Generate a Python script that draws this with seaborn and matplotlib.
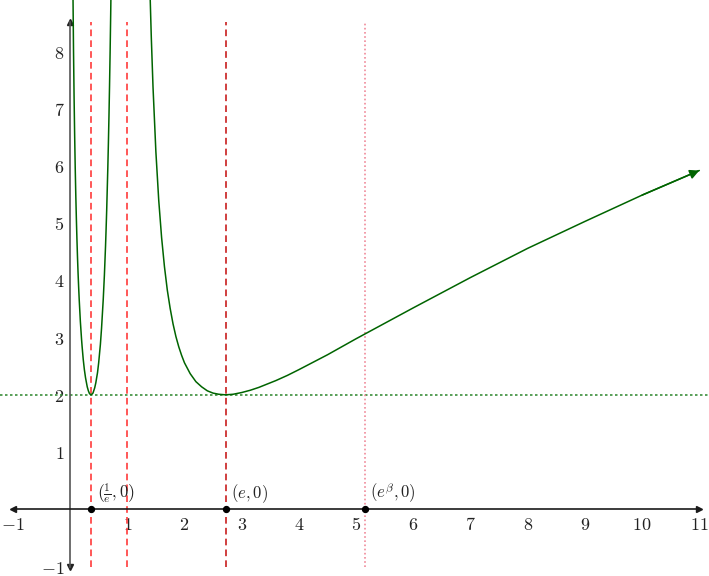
import numpy as np
import pandas as pd
import seaborn as sns
import matplotlib.pyplot as plt

# curve values (two branches, asymptote at x = 1)
x_left = [0.04, 0.045, 0.05, 0.06, 0.07, 0.08, 0.09, 0.10, 0.11, 0.12, 0.13, 0.14, 0.15,
          0.16, 0.18, 0.20, 0.21, 0.23, 0.25, 0.27, 0.30, 0.32, 0.34, 0.368, 0.40, 0.43,
          0.45, 0.48, 0.50, 0.53, 0.55, 0.58, 0.60, 0.62, 0.63, 0.64, 0.66, 0.67, 0.68,
          0.69, 0.70, 0.71, 0.72]
y_left = [10.46, 9.72, 9.09, 8.04, 7.21, 6.54, 5.97, 5.49, 5.08, 4.72, 4.40, 4.12, 3.88,
          3.66, 3.28, 2.98, 2.85, 2.62, 2.44, 2.30, 2.14, 2.07, 2.02, 2.00, 2.03, 2.12,
          2.21, 2.39, 2.56, 2.88, 3.16, 3.67, 4.09, 4.60, 4.90, 5.22, 5.97, 6.40, 6.87,
          7.40, 7.99, 8.64, 9.38]
x_right = [1.38, 1.40, 1.42, 1.45, 1.50, 1.55, 1.60, 1.65, 1.70, 1.75, 1.80, 1.85, 1.90,
           1.95, 2.0, 2.1, 2.2, 2.3, 2.4, 2.5, 2.6, 2.718, 2.85, 3.0, 3.15, 3.3, 3.6, 3.8,
           4.0, 4.25, 4.5, 5.0, 5.5, 6.0, 7.0, 8.0, 9.0, 10.0, 11.0]
y_right = [9.74, 8.95, 8.25, 7.38, 6.25, 5.40, 4.75, 4.24, 3.83, 3.51, 3.24, 3.02, 2.84,
           2.69, 2.56, 2.37, 2.23, 2.14, 2.07, 2.03, 2.01, 2.00, 2.01, 2.04, 2.08, 2.13,
           2.25, 2.34, 2.44, 2.57, 2.70, 2.98, 3.25, 3.52, 4.05, 4.56, 5.03, 5.49, 5.92]

# special x positions: 1/e, 1, e, e^beta
x_inv_e = 0.368
x_one = 1.0
x_e = 2.718
x_beta = 5.15
y_min = 2.0

point_x = [x_inv_e, x_e, x_beta]
point_labels = [r'$\left(\frac{1}{e},0\right)$', r'$(e,0)$', r'$(e^{\beta},0)$']

xticks = [-1, 1, 2, 3, 4, 5, 6, 7, 8, 9, 10, 11]
yticks = [-1, 1, 2, 3, 4, 5, 6, 7, 8]

sns.set_theme(style='white')
plt.rcParams['mathtext.fontset'] = 'cm'
plt.rcParams['font.family'] = ['DejaVu Serif']

fig = plt.figure(figsize=(7.09, 5.76), dpi=100)
ax = fig.add_axes([0, 0, 1, 1])
ax.set_xlim(-1.225, 11.17)
ax.set_ylim(-1.166, 8.90)

green = '#006400'

# guide lines
ax.axhline(y_min, color='#3c8f3c', ls=(0, (1.5, 1.5)), lw=1.2, zorder=1)
for xv, col, ls in [(x_inv_e, '#ff3b3b', (0, (4, 2.5))), (x_one, '#ff3b3b', (0, (4, 2.5))),
                    (x_e, '#c81e1e', (0, (4, 2.5))), (x_beta, '#f08a9a', (0, (1, 1.5)))]:
    ax.vlines(xv, -1, 8.51, colors=col, linestyles=[ls], lw=1.2, zorder=1)

# axes
for s in ['top', 'right']:
    ax.spines[s].set_visible(False)
ax.spines['bottom'].set_position(('data', 0))
ax.spines['left'].set_position(('data', 0))
ax.spines['bottom'].set_bounds(-1, 11)
ax.spines['left'].set_bounds(-1, 8.51)
ax.spines['bottom'].set_color('#1a1a1a')
ax.spines['left'].set_color('#555555')
ax.spines['bottom'].set_linewidth(1.2)
ax.spines['left'].set_linewidth(1.2)
ax.plot([-1], [0], marker='<', color='#1a1a1a', ms=5, clip_on=False)
ax.plot([11], [0], marker='>', color='#1a1a1a', ms=5, clip_on=False)
ax.plot([0], [8.51], marker='^', color='#222222', ms=5, clip_on=False)
ax.plot([0], [-1], marker='v', color='#222222', ms=5, clip_on=False)

ax.set_xticks(xticks)
ax.set_yticks(yticks)
ax.set_xticklabels([f'${t}$' for t in xticks])
ax.set_yticklabels([f'${t}$' for t in yticks])
ax.tick_params(axis='both', direction='inout', length=6, width=0.9, labelsize=13,
               colors='#222222', pad=1)
ax.tick_params(axis='x', pad=2)
ax.grid(False)

# curve
sns.lineplot(x=x_left, y=y_left, ax=ax, color=green, lw=1.1, estimator=None, sort=False)
sns.lineplot(x=x_right, y=y_right, ax=ax, color=green, lw=1.1, estimator=None, sort=False)
ax.annotate('', xy=(x_right[-1], y_right[-1]), xytext=(x_right[-2], y_right[-2]),
            arrowprops=dict(arrowstyle='-|>', color=green, lw=1.1, mutation_scale=14,
                            shrinkA=0, shrinkB=0))

# points
ax.scatter(point_x, [0] * len(point_x), s=18, color='black', zorder=5)
for px, lab in zip(point_x, point_labels):
    ax.annotate(lab, (px, 0), xytext=(4, 3), textcoords='offset points',
                ha='left', va='bottom', fontsize=12, color='#222222')

fig.savefig('out.png', dpi=100)
